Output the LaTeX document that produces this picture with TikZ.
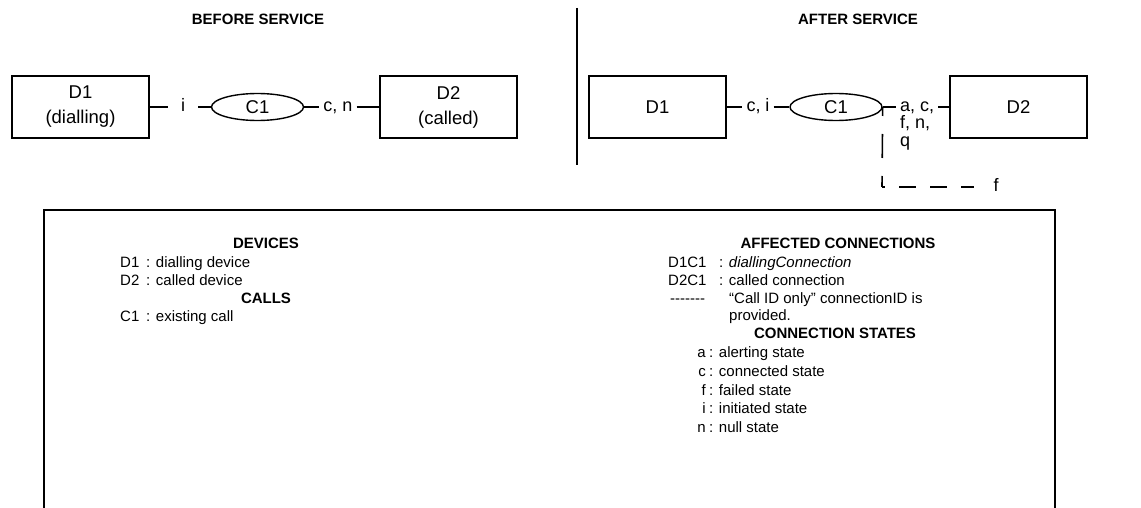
\documentclass[tikz,border=0pt]{standalone}
\usepackage{fontspec}
\setmainfont{Liberation Sans}
\usetikzlibrary{shapes.geometric}
\begin{document}
\begin{tikzpicture}[x=1pt,y=-1pt,
  font=\fontsize{15}{18.4}\selectfont,
  dev/.style={draw, line width=1.6pt, minimum width=137pt, minimum height=62pt, inner sep=0pt, align=center, font=\fontsize{18.5}{25}\selectfont},
  call/.style={draw, ellipse, line width=1.4pt, minimum width=92pt, minimum height=27pt, inner sep=0pt, font=\fontsize{18.5}{20}\selectfont},
  lab/.style={inner xsep=4pt, inner ysep=0pt, text height=9pt, text depth=0pt, font=\fontsize{18}{20}\selectfont},
  conn/.style={line width=1.6pt},
  txt/.style={inner sep=0pt, anchor=base west},
  ttxt/.style={inner sep=0pt, anchor=base west, font=\fontsize{18}{20}\selectfont},
  lett/.style={inner sep=0pt, anchor=base east},
  hd/.style={inner sep=0pt, anchor=base, font=\fontsize{15}{18.4}\selectfont\bfseries}]
\useasboundingbox (0,0) rectangle (1141,508);

% titles and divider
\node[hd] (tb) at (258,24.5) {BEFORE SERVICE};
\node[hd] (ta) at (858,24.5) {AFTER SERVICE};
\coordinate (dv1) at (577,8);
\coordinate (dv2) at (577,165);
\draw[conn] (dv1) -- (dv2);

% before
\node[dev] (D1a) at (80.5,107) {D1\\(dialling)};
\node[call] (C1a) at (257.5,107) {C1};
\node[dev] (D2a) at (448.5,107) {D2\\(called)};
\node[lab, inner xsep=13pt] (la) at (183,107) {i};
\node[lab] (lb) at (338,107) {c, n};
\draw[conn] (D1a.east) -- (la.west);
\draw[conn] (la.east) -- (C1a.west);
\draw[conn] (C1a.east) -- (lb.west);
\draw[conn] (lb.east) -- (D2a.west);

% after
\node[dev] (D1b) at (657.5,107) {D1};
\node[call] (C1b) at (836,107) {C1};
\node[dev] (D2b) at (1018.5,107) {D2};
\node[lab] (lc) at (758,107) {c, i};
\node[lab, anchor=west] (ld) at (896,107) {a, c,};
\node[ttxt] (le) at (900,129) {f, n,};
\node[ttxt] (lf) at (900,147) {q};
\draw[conn] (D1b.east) -- (lc.west);
\draw[conn] (lc.east) -- (C1b.west);
\draw[conn] (C1b.east) -- (ld.west);
\draw[conn] (ld.east) -- (D2b.west);

% dashed failure path
\coordinate (cr) at (882,187);
\coordinate (fe) at (974,187);
\draw[conn, dash pattern=on 24pt off 18pt, dash phase=15pt] (C1b.east) -- (cr);
\draw[conn, dash pattern=on 17pt off 14pt, dash phase=14pt] (cr) -- (fe);
\node[inner sep=0pt, anchor=base, font=\fontsize{18}{20}\selectfont] (fl) at (996,191) {f};

% legend box
\coordinate (b1) at (44,512);
\coordinate (b2) at (44,210);
\coordinate (b3) at (1055,210);
\coordinate (b4) at (1055,512);
\draw[conn] (b1) -- (b2) -- (b3) -- (b4);

% left column
\node[hd] (hdev) at (266,248.5) {DEVICES};
\node[txt] (k1) at (120,267) {D1};
\node[txt] (v1) at (146,267) {: dialling device};
\node[txt] (k2) at (120,285.5) {D2};
\node[txt] (v2) at (146,285.5) {: called device};
\node[hd] (hcal) at (266,303.5) {CALLS};
\node[txt] (k3) at (120,321.5) {C1};
\node[txt] (v3) at (146,321.5) {: existing call};

% right column
\node[hd] (haff) at (838,248.5) {AFFECTED CONNECTIONS};
\node[txt] (k4) at (668,267) {D1C1};
\node[txt] (v4) at (719,267) {: \textit{diallingConnection}};
\node[txt] (k5) at (668,285.5) {D2C1};
\node[txt] (v5) at (719,285.5) {: called connection};
\node[txt] (k6) at (670,303.5) {-{}-{}-{}-{}-{}-{}-};
\node[txt] (v6) at (729,303.5) {“Call ID only” connectionID is};
\node[txt] (v6b) at (729,320.5) {provided.};
\node[hd] (hst) at (835,338.5) {CONNECTION STATES};
\node[lett] (s1) at (706,357.5) {a};
\node[txt] (t1) at (709,357.5) {: alerting state};
\node[lett] (s2) at (706,376.5) {c};
\node[txt] (t2) at (709,376.5) {: connected state};
\node[lett] (s3) at (706,395.5) {f};
\node[txt] (t3) at (709,395.5) {: failed state};
\node[lett] (s4) at (706,413.5) {i};
\node[txt] (t4) at (709,413.5) {: initiated state};
\node[lett] (s5) at (706,432.5) {n};
\node[txt] (t5) at (709,432.5) {: null state};
\end{tikzpicture}
\end{document}
